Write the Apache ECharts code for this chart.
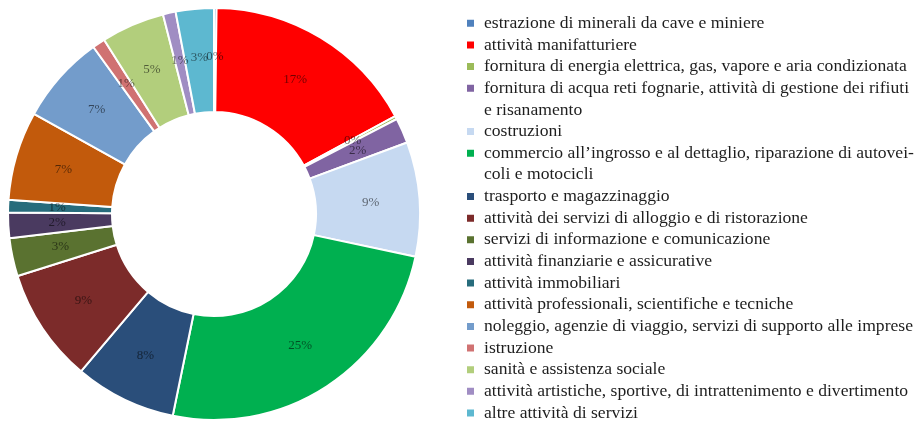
<!DOCTYPE html>
<html><head><meta charset="utf-8">
<script src="https://cdn.jsdelivr.net/npm/echarts@6/dist/echarts.min.js"></script>
<style>html,body{margin:0;padding:0;background:#fff}#c{width:916px;height:421px}</style>
</head><body><div id="c"></div>
<script>
const categories = [
  'estrazione di minerali da cave e miniere',
  'attività manifatturiere',
  'fornitura di energia elettrica, gas, vapore e aria condizionata',
  'fornitura di acqua reti fognarie, attività di gestione dei rifiuti e risanamento',
  'costruzioni',
  'commercio all’ingrosso e al dettaglio, riparazione di autoveicoli e motocicli',
  'trasporto e magazzinaggio',
  'attività dei servizi di alloggio e di ristorazione',
  'servizi di informazione e comunicazione',
  'attività finanziarie e assicurative',
  'attività immobiliari',
  'attività professionali, scientifiche e tecniche',
  'noleggio, agenzie di viaggio, servizi di supporto alle imprese',
  'istruzione',
  'sanità e assistenza sociale',
  'attività artistiche, sportive, di intrattenimento e divertimento',
  'altre attività di servizi'
];
const values = [0.2, 17, 0.25, 2, 9, 25, 8, 9, 3, 2, 1, 7, 7, 1, 5, 1, 3];
const colors = ['#4F81BD','#FF0000','#9BBB59','#8064A2','#C6D9F1','#00B050','#2A4E7A','#7C2B2A',
  '#5A7230','#4A3A60','#276C7C','#C25A0C','#739CCB','#D07272','#B2CE7C','#A08DC3','#5DB8D0'];
const wrappedLegendLines = {
  3: ['fornitura di acqua reti fognarie, attività di gestione dei rifiuti', 'e risanamento'],
  5: ['commercio all’ingrosso e al dettaglio, riparazione di autovei-', 'coli e motocicli']
};

const chart = echarts.init(document.getElementById('c'));
const LH = 21.65;
const firstIcon = 23.3;
const serif = '"Liberation Serif", "DejaVu Serif", serif';

function legendText(name) {
  const i = categories.indexOf(name);
  if (wrappedLegendLines[i]) return '\n' + wrappedLegendLines[i].join('\n');
  return name;
}
function mkLegend(idxs, line, wrapped) {
  const iconC = firstIcon + LH * line;
  return {
    orient: 'vertical', left: 465, top: wrapped ? iconC - 1.5 * LH : iconC - LH / 2,
    height: 400,
    padding: 0, itemGap: 0, itemWidth: 9, itemHeight: 9, icon: 'rect',
    data: idxs.map(i => categories[i]),
    formatter: legendText,
    textStyle: { fontFamily: serif, fontSize: 17.6, color: '#1e1e1e', lineHeight: LH, padding: [0, 0, 0, 4] },
    selectedMode: true
  };
}

chart.setOption({
  animation: false,
  color: colors,
  legend: [
    mkLegend([0, 1, 2], 0, false),
    mkLegend([3], 3, true),
    mkLegend([4], 5, false),
    mkLegend([5], 6, true),
    mkLegend([6, 7, 8, 9, 10, 11, 12, 13, 14, 15, 16], 8, false)
  ],
  series: [{
    type: 'pie',
    center: [214, 214],
    radius: [102, 206],
    startAngle: 90,
    clockwise: true,
    minShowLabelAngle: 0,
    avoidLabelOverlap: false,
    labelLayout: { hideOverlap: false },
    itemStyle: { borderColor: '#fff', borderWidth: 2 },
    label: {
      show: true, position: 'inside', overflow: 'none',
      formatter: p => Math.round(p.value) + '%',
      fontFamily: serif, fontSize: 13, color: 'rgba(0,0,0,0.55)'
    },
    labelLine: { show: false },
    emphasis: { disabled: true },
    data: categories.map((n, i) => ({ name: n, value: values[i] }))
  }]
});
</script></body></html>
